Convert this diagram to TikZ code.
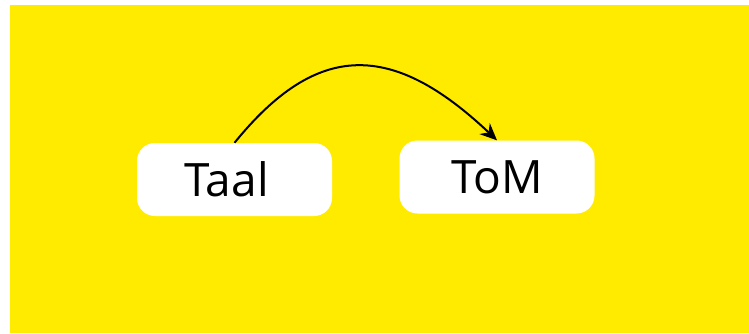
\documentclass[tikz,border=0pt]{standalone}
\usepackage{fontspec}
\setmainfont{Open Sans}
\usetikzlibrary{arrows.meta}
\definecolor{bgyellow}{HTML}{FFEB00}

\begin{document}
\begin{tikzpicture}[x=1pt,y=-1pt,
  box/.style={draw=none,fill=white,rounded corners=18pt,minimum width=195pt,minimum height=73pt,font=\fontsize{46}{52}\selectfont,inner sep=0pt}]
\useasboundingbox (0,0) rectangle (749,333);
\fill[bgyellow] (10,5) rectangle (749,333);
\node[box] (taal) at (234.5,179.5) {\hspace*{-16pt}Taal};
\node[box] (tom) at (497,177) {ToM};
\draw[line width=2pt,-{Stealth[length=17pt,width=15pt]}] (taal.north) .. controls (317,41) and (392,41) .. (tom.north);
\end{tikzpicture}
\end{document}
